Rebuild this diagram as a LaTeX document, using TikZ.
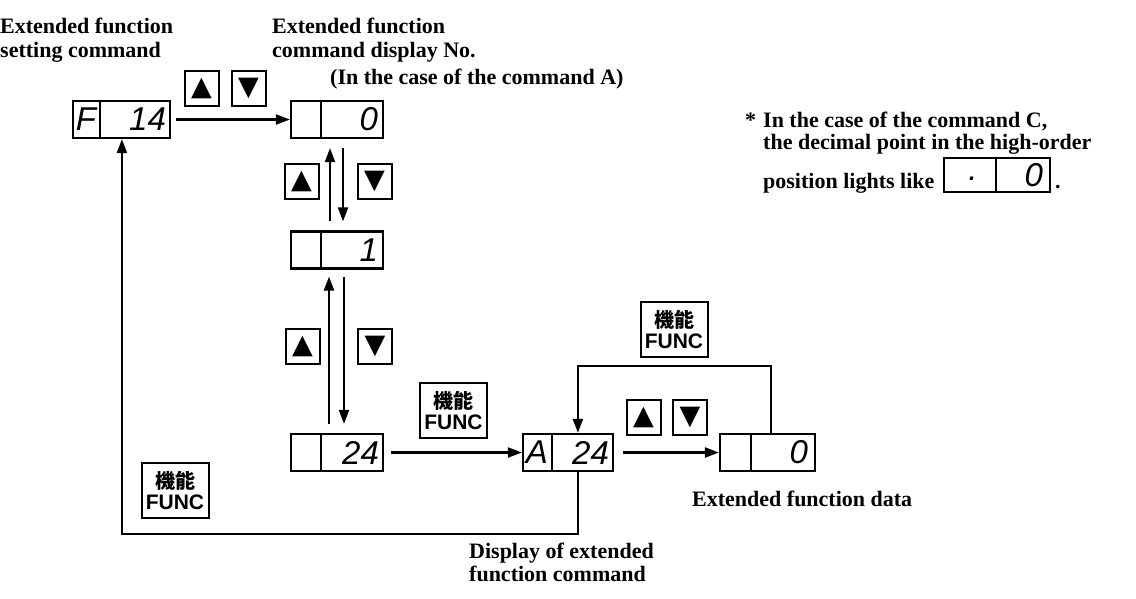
\documentclass[tikz,border=0pt]{standalone}
\usepackage{fontspec}
\usetikzlibrary{arrows.meta,calc}
\newfontfamily\txtf{Liberation Serif}
\newfontfamily\segf{Liberation Sans}
\newfontfamily\btnf{Liberation Sans}
\newfontfamily\cjkf{Noto Sans CJK JP}
\newfontfamily\symf{DejaVu Sans}
\begin{document}
\begin{tikzpicture}[x=1pt,y=-1pt,
  lbl/.style={font=\txtf\bfseries\fontsize{22}{26}\selectfont, inner sep=0, anchor=base west},
  disp/.style={draw, line width=2.2pt, minimum height=37pt, inner sep=0},
  seg/.style={font=\segf\itshape\fontsize{33}{33}\selectfont, inner sep=0},
  btn/.style={draw, line width=2pt, minimum width=34pt, minimum height=35pt, inner sep=0, font=\symf\fontsize{27}{27}\selectfont},
  func/.style={draw, line width=2pt, minimum width=67pt, minimum height=55pt, inner sep=0, align=center, font=\fontsize{21}{22}\selectfont},
  arr/.style={line width=2.2pt, -{Triangle[length=14pt,width=10pt]}},
  ln/.style={line width=2.2pt}
]
\useasboundingbox (0,0) rectangle (1136,598);

% texts
\node[lbl] (t1a) at (0,33) {Extended function};
\node[lbl] (t1b) at (0,57) {setting command};
\node[lbl] (t2a) at (272,33) {Extended function};
\node[lbl] (t2b) at (272,57) {command display No.};
\node[lbl] (t3) at (330,84) {(In the case of the command A)};
\node[lbl] (ast) at (745,127) {*};
\node[lbl] (n1) at (763,127) {In the case of the command C,};
\node[lbl] (n2) at (763,149) {the decimal point in the high-order};
\node[lbl] (n3) at (763,188) {position lights like};
\node[lbl] (data) at (692,506) {Extended function data};
\node[lbl] (d1) at (469,558) {Display of extended};
\node[lbl] (d2) at (469,581) {function command};

% display boxes
\node[disp, minimum width=97pt] (f14) at (121.5,119.5) {};
\draw[ln] ([xshift=28pt]f14.north west) -- ([xshift=28pt]f14.south west);
\node[seg] (f14l) at ([xshift=14pt]f14.west) {F};
\node[seg, anchor=east] (f14r) at ([xshift=-5pt]f14.east) {14};

\node[disp, minimum width=92pt] (b0) at (337,119.5) {};
\draw[ln] ([xshift=31pt]b0.north west) -- ([xshift=31pt]b0.south west);
\node[seg, anchor=east] (b0r) at ([xshift=-6pt]b0.east) {0};

\node[disp, minimum width=92pt] (b1) at (337,250) {};
\draw[ln] ([xshift=31pt]b1.north west) -- ([xshift=31pt]b1.south west);
\node[seg, anchor=east] (b1r) at ([xshift=-6pt]b1.east) {1};

\node[disp, minimum width=92pt] (b24) at (337,452.5) {};
\draw[ln] ([xshift=31pt]b24.north west) -- ([xshift=31pt]b24.south west);
\node[seg, anchor=east] (b24r) at ([xshift=-5pt]b24.east) {24};

\node[disp, minimum width=90pt] (a24) at (568,452.5) {};
\draw[ln] ([xshift=30pt]a24.north west) -- ([xshift=30pt]a24.south west);
\node[seg] (a24l) at ([xshift=15pt]a24.west) {A};
\node[seg, anchor=east] (a24r) at ([xshift=-5pt]a24.east) {24};

\node[disp, minimum width=95pt] (fin) at (767.5,452.5) {};
\draw[ln] ([xshift=32pt]fin.north west) -- ([xshift=32pt]fin.south west);
\node[seg, anchor=east] (finr) at ([xshift=-8pt]fin.east) {0};

% inline box in note
\node[disp, minimum width=106pt, minimum height=34pt] (ib) at (997,175) {};
\draw[ln] ([xshift=53pt]ib.north west) -- ([xshift=53pt]ib.south west);
\node[seg] (ibl) at ([xshift=30pt,yshift=-4pt]ib.west) {.};
\node[seg, anchor=east] (ibr) at ([xshift=-8pt]ib.east) {0};
\node[lbl] (dot) at (1055,188) {.};

% buttons
\node[btn] (u0) at (201.5,88.5) {▲};
\node[btn] (d0) at (248.5,88.5) {▼};
\node[btn] (u1) at (301.5,181.5) {▲};
\node[btn] (d1b) at (374.5,181.5) {▼};
\node[btn] (u2) at (302.5,346.5) {▲};
\node[btn] (d2b) at (375,346.5) {▼};
\node[btn] (u3) at (643.5,417.5) {▲};
\node[btn] (d3) at (690,417.5) {▼};

\node[func] (fn1) at (674,329.5) {{\cjkf\bfseries\fontsize{20}{21}\selectfont 機能}\\[-1pt]{\btnf\bfseries FUNC}};
\node[func] (fn2) at (453.5,410.5) {{\cjkf\bfseries\fontsize{20}{21}\selectfont 機能}\\[-1pt]{\btnf\bfseries FUNC}};
\node[func] (fn3) at (175,490.5) {{\cjkf\bfseries\fontsize{20}{21}\selectfont 機能}\\[-1pt]{\btnf\bfseries FUNC}};

% connectors
\draw[arr] ([xshift=5pt]f14.east) -- (b0.west);
\draw[arr] ([xshift=-7pt,yshift=9pt]b1.north) -- ([xshift=-7pt,yshift=-9pt]b0.south);
\draw[arr] ([xshift=6pt,yshift=-9pt]b0.south) -- ([xshift=6pt,yshift=9pt]b1.north);
\draw[arr] ([xshift=-8pt,yshift=9pt]b24.north) -- ([xshift=-8pt,yshift=-7pt]b1.south);
\draw[arr] ([xshift=7pt,yshift=-7pt]b1.south) -- ([xshift=7pt,yshift=9pt]b24.north);
\draw[arr] ([xshift=7pt]b24.east) -- (a24.west);
\draw[arr] ([xshift=9pt]a24.east) -- (fin.west);
\draw[arr] ([xshift=52pt]fin.north west) -- ++(0,-67) -| ([xshift=56pt]a24.north west);
\draw[arr] ([xshift=56pt]a24.south west) -- ++(0,62) -| ([xshift=50pt]f14.south west);
\end{tikzpicture}
\end{document}
